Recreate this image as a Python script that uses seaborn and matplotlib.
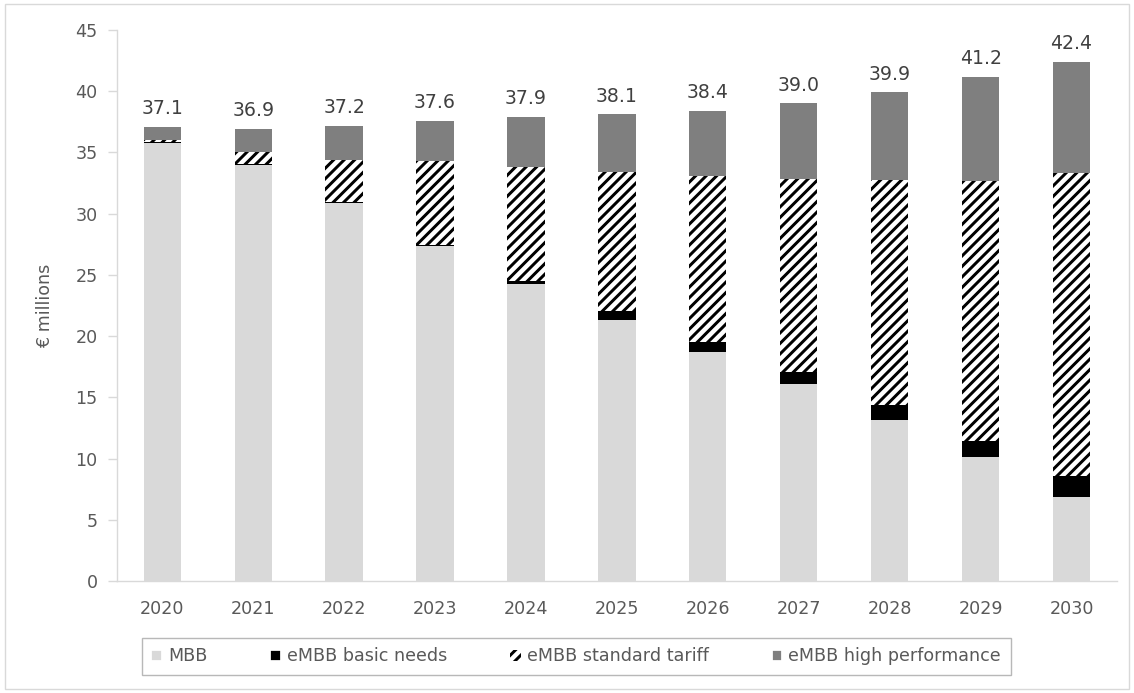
import numpy as np
import pandas as pd
import matplotlib
matplotlib.use("Agg")
import matplotlib.pyplot as plt
from matplotlib.patches import Patch, Rectangle
import seaborn as sns

years = ["2020", "2021", "2022", "2023", "2024", "2025", "2026", "2027", "2028", "2029", "2030"]
mbb = [35.8, 34.0, 30.9, 27.4, 24.25, 21.3, 18.7, 16.1, 13.15, 10.1, 6.9]
basic_needs = [0.05, 0.02, 0.05, 0.05, 0.25, 0.75, 0.8, 0.95, 1.2, 1.35, 1.65]
standard_tariff = [0.2, 1.0, 3.45, 6.85, 9.35, 11.35, 13.55, 15.75, 18.4, 21.2, 24.8]
high_performance = [1.05, 1.88, 2.8, 3.3, 4.05, 4.7, 5.35, 6.2, 7.15, 8.55, 9.05]
totals = [37.1, 36.9, 37.2, 37.6, 37.9, 38.1, 38.4, 39.0, 39.9, 41.2, 42.4]

df = pd.DataFrame({"year": years, "mbb": mbb, "basic": basic_needs,
                   "standard": standard_tariff, "high": high_performance})
df["c1"] = df["mbb"]
df["c2"] = df["c1"] + df["basic"]
df["c3"] = df["c2"] + df["standard"]
df["c4"] = df["c3"] + df["high"]

sns.set_theme(style="white")
plt.rcParams["font.family"] = ["DejaVu Sans"]
plt.rcParams["hatch.linewidth"] = 1.7

fig, ax = plt.subplots(figsize=(9, 5.5), dpi=126)
fig.subplots_adjust(left=0.103, right=0.985, bottom=0.1616, top=0.9567)

# stacked bars drawn as overlapping cumulative layers
w = 0.41
sns.barplot(data=df, x="year", y="c4", color="#7f7f7f", saturation=1, width=w, ax=ax, linewidth=0)
sns.barplot(data=df, x="year", y="c3", color="white", saturation=1, width=w, ax=ax,
            hatch="////", edgecolor="black", linewidth=0)
sns.barplot(data=df, x="year", y="c2", color="black", saturation=1, width=w, ax=ax, linewidth=0)
sns.barplot(data=df, x="year", y="c1", color="#d9d9d9", saturation=1, width=w, ax=ax, linewidth=0)

for i, t in enumerate(totals):
    ax.annotate(f"{t:.1f}", (i, df["c4"][i]), xytext=(0, 5), textcoords="offset points",
                ha="center", va="bottom", fontsize=10.8, color="#404040")

ax.set_ylim(0, 45)
ax.set_xlim(-0.5, 10.5)
ax.set_yticks(range(0, 46, 5))
ax.set_xlabel("")
ax.set_ylabel("€ millions", color="#595959", fontsize=10, labelpad=12)
ax.tick_params(axis="y", left=True, length=5, width=0.8, color="#d9d9d9",
               labelcolor="#595959", labelsize=10, pad=6)
ax.tick_params(axis="x", bottom=False, labelcolor="#595959", labelsize=10, pad=5)
for s in ["top", "right"]:
    ax.spines[s].set_visible(False)
ax.spines["left"].set_color("#d9d9d9")
ax.spines["bottom"].set_color("#d9d9d9")
ax.spines["left"].set_linewidth(0.8)
ax.spines["bottom"].set_linewidth(0.8)

handles = [Patch(facecolor="#d9d9d9", label="MBB"),
           Patch(facecolor="black", label="eMBB basic needs"),
           Patch(facecolor="white", hatch="////", edgecolor="black", linewidth=0, label="eMBB standard tariff"),
           Patch(facecolor="#7f7f7f", label="eMBB high performance")]
leg = fig.legend(handles=handles, loc="center", bbox_to_anchor=(0.508, 0.053), ncol=4,
                 frameon=True, fancybox=False, edgecolor="#a6a6a6",
                 handlelength=0.6, handleheight=0.6, handletextpad=0.35, columnspacing=3.6,
                 borderpad=0.55, prop={"family": ["DejaVu Sans"], "size": 10})
for txt in leg.get_texts():
    txt.set_color("#595959")
leg.get_frame().set_linewidth(0.8)

fig.patches.append(Rectangle((0.004, 0.006), 0.992, 0.988, transform=fig.transFigure,
                             fill=False, edgecolor="#d9d9d9", linewidth=0.8))

fig.savefig("out.png", dpi=126)
